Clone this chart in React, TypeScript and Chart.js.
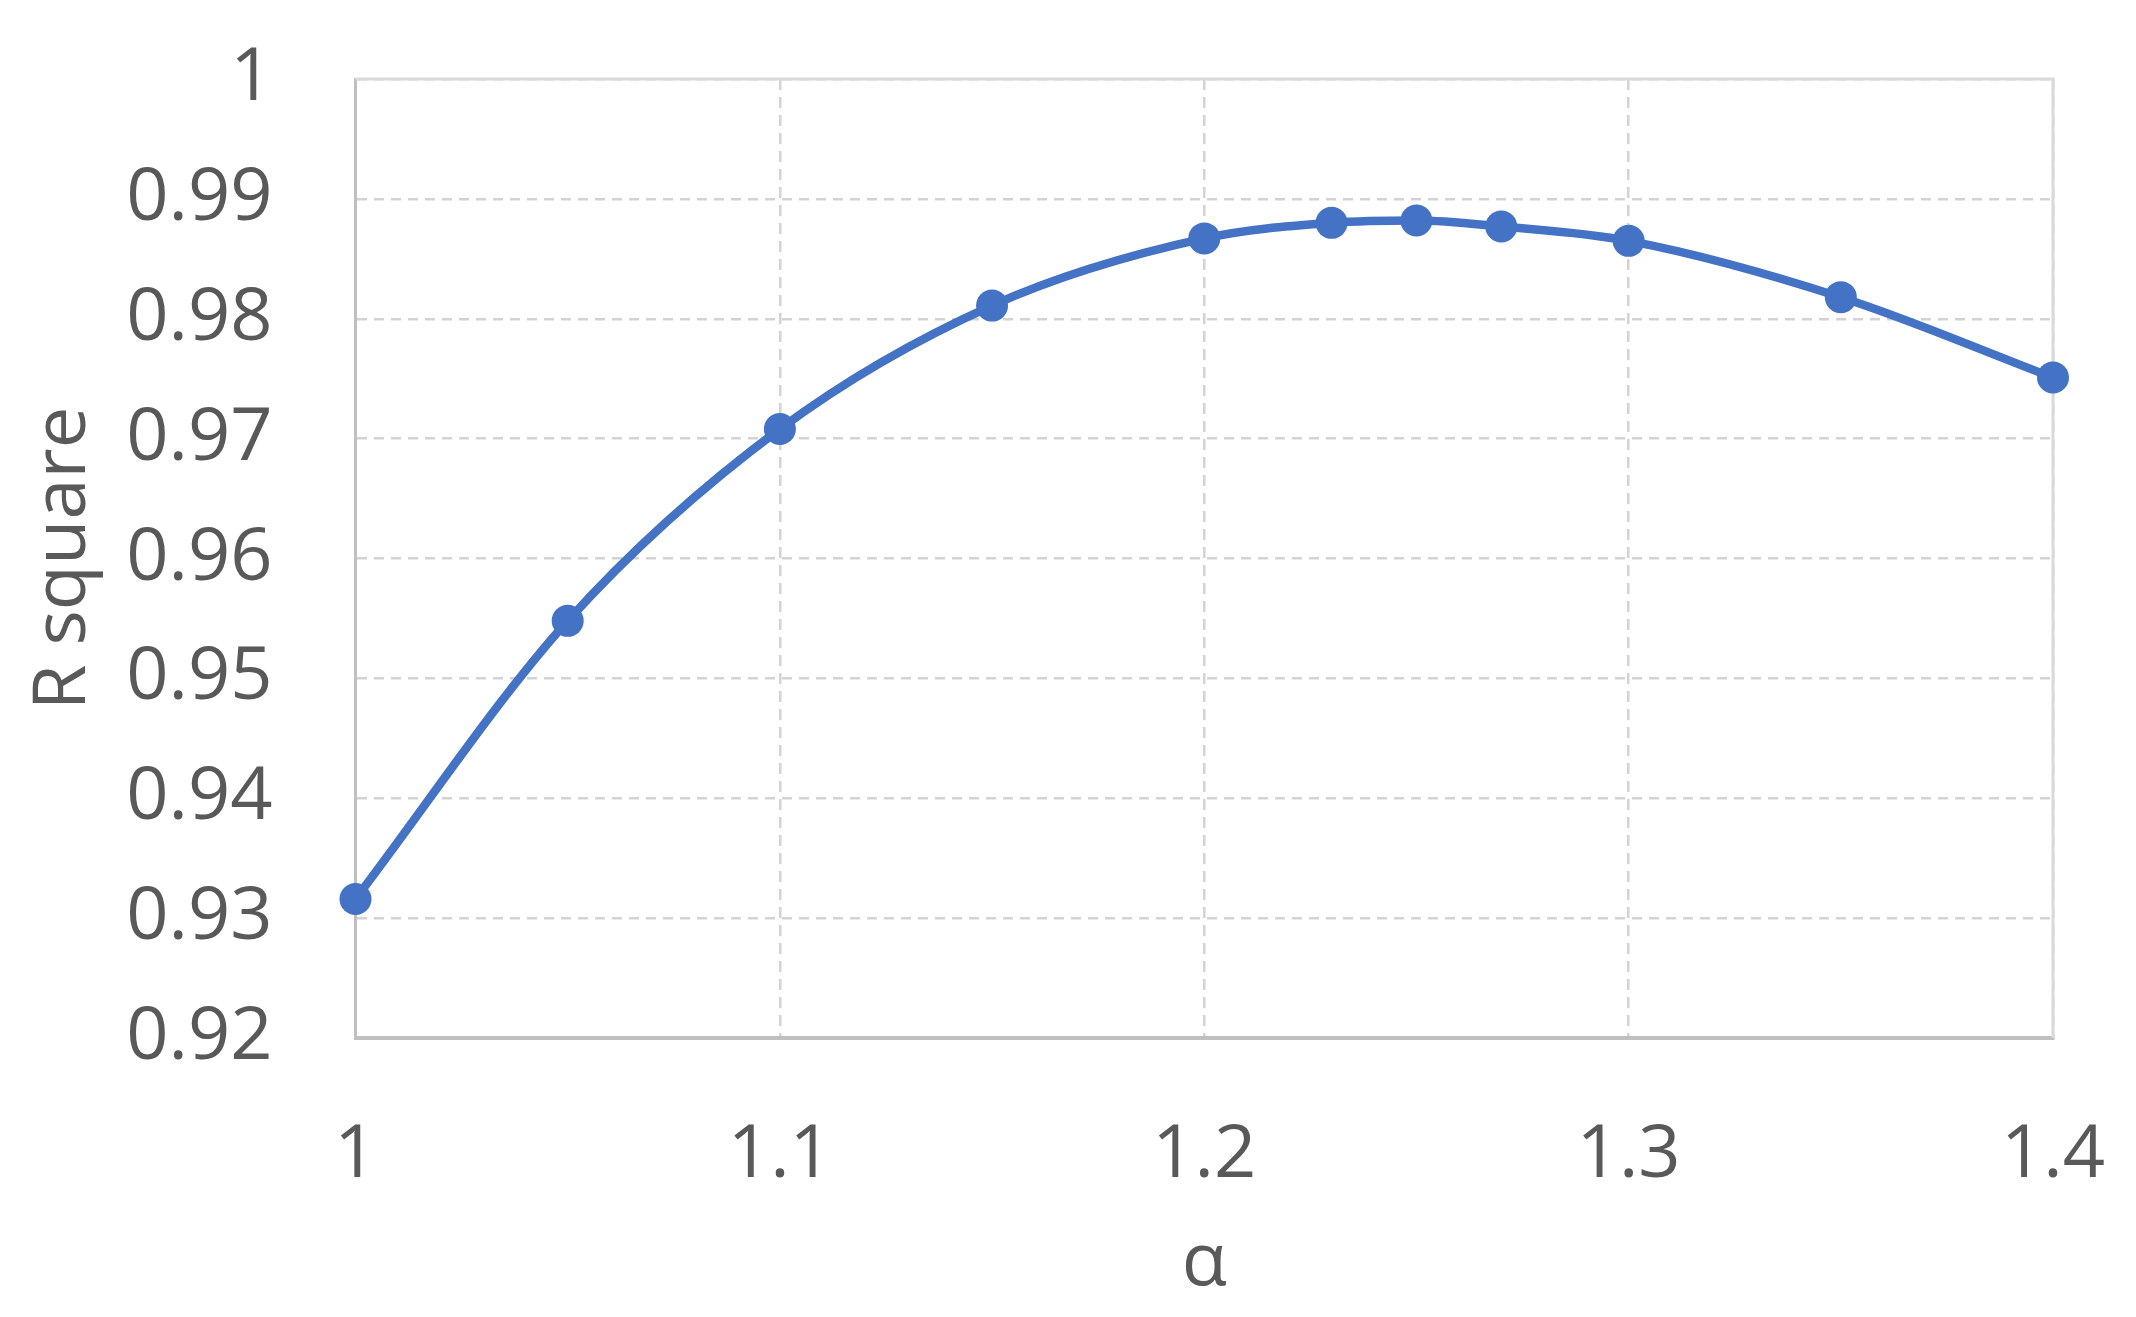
import React, { useEffect, useRef } from "react";
import { Chart, registerables } from "chart.js";

Chart.register(...registerables);

const alphaValues = [1.0, 1.05, 1.1, 1.15, 1.2, 1.23, 1.25, 1.27, 1.3, 1.35, 1.4];
const rSquareValues = [0.9316, 0.9548, 0.9708, 0.9811, 0.9867, 0.988, 0.9882, 0.9877, 0.9865, 0.9818, 0.9751];
const xTickLabels = ["1", "1.1", "1.2", "1.3", "1.4"];
const yTickLabels = ["0.92", "0.93", "0.94", "0.95", "0.96", "0.97", "0.98", "0.99", "1"];

const W = 2136;
const H = 1317;
const TEXT = "#595959";
const FONT = "'Open Sans', 'Noto Sans', sans-serif";
const CLEAR = "rgba(0,0,0,0)";

export default function App() {
  const ref = useRef<HTMLCanvasElement | null>(null);

  useEffect(() => {
    if (!ref.current) return;
    const framePlugin = {
      id: "frame",
      beforeDatasetsDraw(chart: any) {
        const { ctx, chartArea } = chart;
        ctx.save();
        ctx.strokeStyle = "#d9d9d9";
        ctx.lineWidth = 3;
        ctx.beginPath();
        ctx.moveTo(chartArea.left, chartArea.top);
        ctx.lineTo(chartArea.right, chartArea.top);
        ctx.lineTo(chartArea.right, chartArea.bottom);
        ctx.stroke();
        ctx.restore();
      },
    };
    const chart = new Chart(ref.current, {
      type: "line",
      data: {
        datasets: [
          {
            data: alphaValues.map((a, i) => ({ x: a, y: rSquareValues[i] })),
            borderColor: "#4472C4",
            backgroundColor: "#4472C4",
            borderWidth: 8.5,
            pointRadius: 16,
            pointHoverRadius: 16,
            pointBorderWidth: 0,
            cubicInterpolationMode: "monotone",
            clip: false as any,
          },
        ],
      },
      options: {
        responsive: false,
        animation: false,
        layout: { padding: { left: 0, top: 79, right: 83, bottom: 0 } },
        plugins: { legend: { display: false }, tooltip: { enabled: false } },
        scales: {
          x: {
            type: "linear",
            min: 1,
            max: 1.4,
            afterFit: (s: any) => {
              s.height = H - 1038;
            },
            ticks: {
              stepSize: 0.1,
              padding: 0,
              color: TEXT,
              font: { family: FONT, size: 74 },
              maxRotation: 0,
              callback: (_v: any, i: number) => xTickLabels[i],
            },
            grid: { color: "#d3d3d3", lineWidth: 2.5, drawTicks: true, tickLength: 74, tickColor: CLEAR },
            border: { display: true, color: "#bfbfbf", width: 4, dash: [11, 7] },
            title: {
              display: true,
              text: "α",
              color: TEXT,
              font: { family: FONT, size: 74 },
              padding: { top: 0, bottom: 9 },
            },
          },
          y: {
            type: "linear",
            min: 0.92,
            max: 1,
            afterFit: (s: any) => {
              s.width = 355.5;
            },
            ticks: {
              stepSize: 0.01,
              padding: 0,
              color: TEXT,
              font: { family: FONT, size: 74 },
              callback: (_v: any, i: number) => yTickLabels[i],
            },
            grid: { color: "#d3d3d3", lineWidth: 2.5, drawTicks: true, tickLength: 83, tickColor: CLEAR },
            border: { display: true, color: "#bfbfbf", width: 3, dash: [10, 7] },
            title: {
              display: true,
              text: "R square",
              color: TEXT,
              font: { family: FONT, size: 74 },
              padding: { top: 20, bottom: 0 },
            },
          },
        },
      },
      plugins: [framePlugin],
    } as any);
    return () => chart.destroy();
  }, []);

  return (
    <div style={{ position: "absolute", left: 0, top: 0, width: W, height: H, background: "#fff" }}>
      <canvas ref={ref} width={W} height={H} style={{ width: W, height: H, display: "block" }} />
    </div>
  );
}
